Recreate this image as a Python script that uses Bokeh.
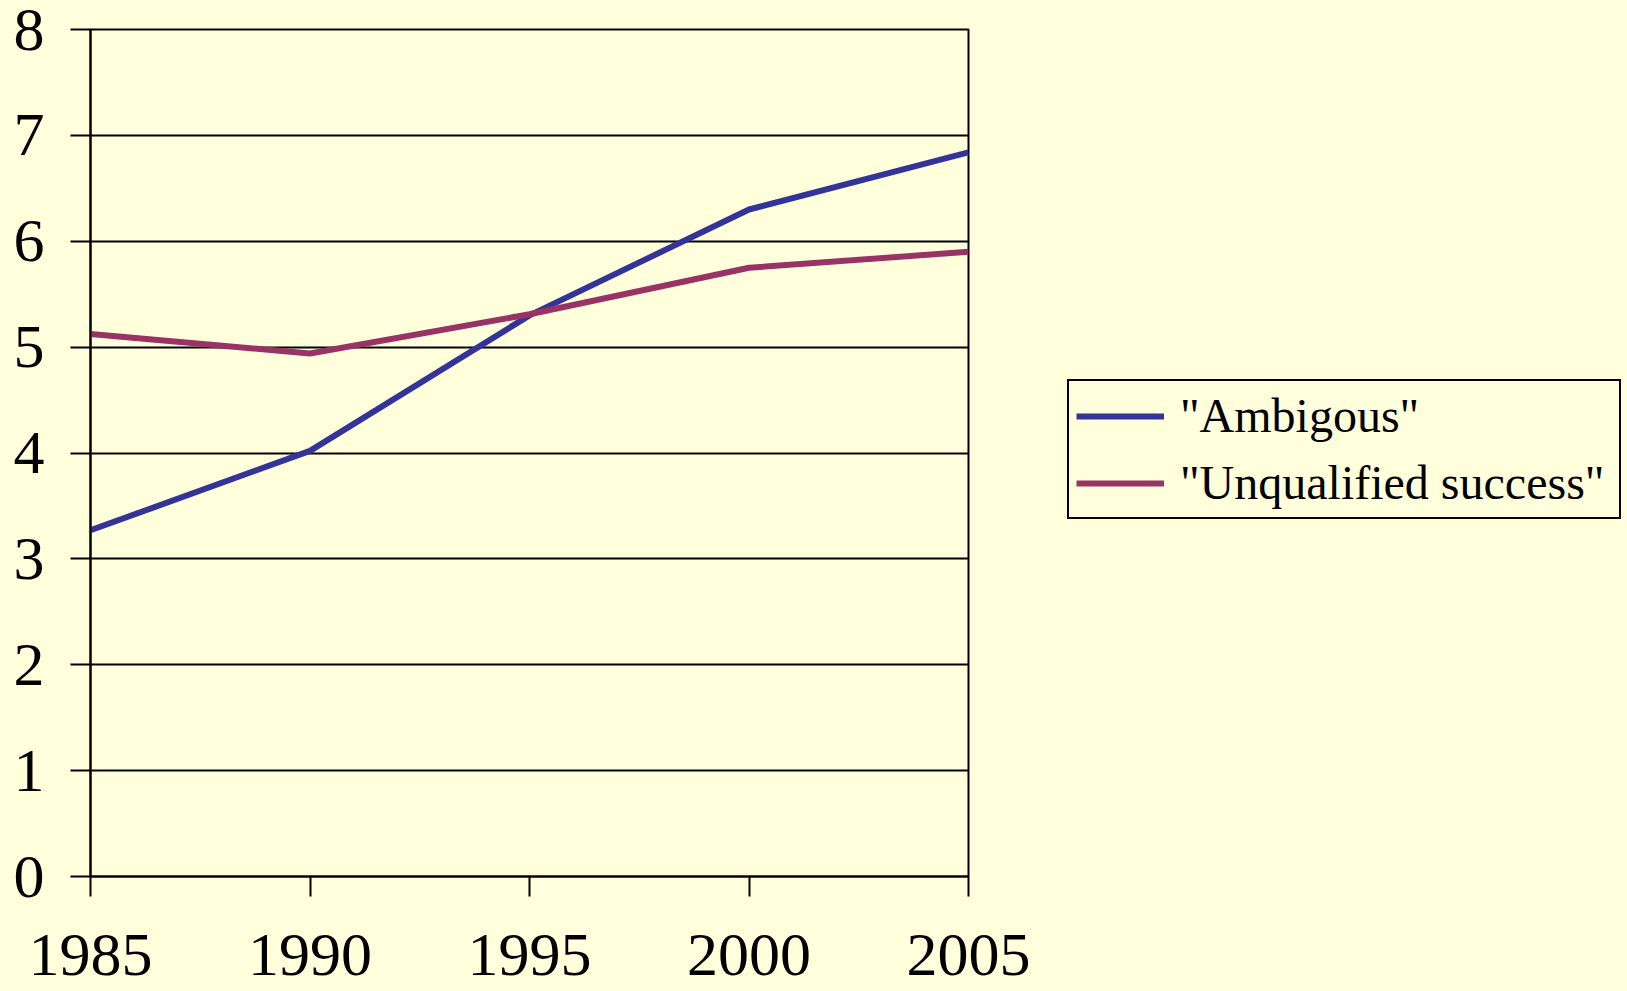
from bokeh.plotting import figure
from bokeh.models import Legend, LegendItem, FixedTicker, Range1d
from bokeh.embed import file_html
from bokeh.resources import INLINE

# ---- data ----
years = [1985, 1990, 1995, 2000, 2005]
ambigous = [3.27, 4.02, 5.30, 6.30, 6.84]
unqualified = [5.125, 4.94, 5.31, 5.75, 5.90]
series_names = ['"Ambigous"', '"Unqualified success"']
y_ticks = [0, 1, 2, 3, 4, 5, 6, 7, 8]
x_ticks = [1985, 1990, 1995, 2000, 2005]

BG = "#FFFFDC"
BLUE = "#333399"
MAROON = "#993366"
FONT = "Liberation Serif"

p = figure(
    frame_width=878, frame_height=847,
    min_border_left=90, min_border_right=659,
    min_border_top=29, min_border_bottom=115,
    x_range=Range1d(1985, 2005), y_range=Range1d(0, 8),
    output_backend="svg", toolbar_location=None,
    background_fill_color=BG, border_fill_color=BG,
)

p.outline_line_color = "black"
p.outline_line_width = 2
p.outline_line_alpha = 1.0

p.xgrid.grid_line_color = None
p.ygrid.grid_line_color = "black"
p.ygrid.grid_line_width = 2
p.ygrid.grid_line_alpha = 1.0
p.ygrid.ticker = FixedTicker(ticks=y_ticks)

for ax in (p.xaxis[0], p.yaxis[0]):
    ax.axis_line_color = "black"
    ax.axis_line_width = 2
    ax.major_tick_line_color = "black"
    ax.major_tick_line_width = 2
    ax.major_tick_out = 20
    ax.major_tick_in = 0
    ax.minor_tick_line_color = None
    ax.major_label_text_font = FONT
    ax.major_label_text_font_size = "62px"
    ax.major_label_text_color = "black"

p.xaxis[0].ticker = FixedTicker(ticks=x_ticks)
p.yaxis[0].ticker = FixedTicker(ticks=y_ticks)
p.xaxis[0].major_label_standoff = 38
p.yaxis[0].major_label_standoff = 26

r1 = p.line(years, ambigous, line_color=BLUE, line_width=6)
r2 = p.line(years, unqualified, line_color=MAROON, line_width=6)

legend = Legend(
    items=[LegendItem(label=series_names[0], renderers=[r1]),
           LegendItem(label=series_names[1], renderers=[r2])],
    location=(99, 357),
    label_text_font=FONT, label_text_font_size="48px", label_text_color="black",
    glyph_width=88, glyph_height=20, label_standoff=16, label_width=432,
    padding=7, spacing=12, margin=0,
    border_line_color="black", border_line_width=2, border_line_alpha=1.0,
    background_fill_color=BG, background_fill_alpha=1.0,
)
p.add_layout(legend, "right")

html = file_html(p, INLINE)
html = html.replace("<head>", "<head><style>body{background:%s;}</style>" % BG, 1)
open("out.html", "w").write(html)
